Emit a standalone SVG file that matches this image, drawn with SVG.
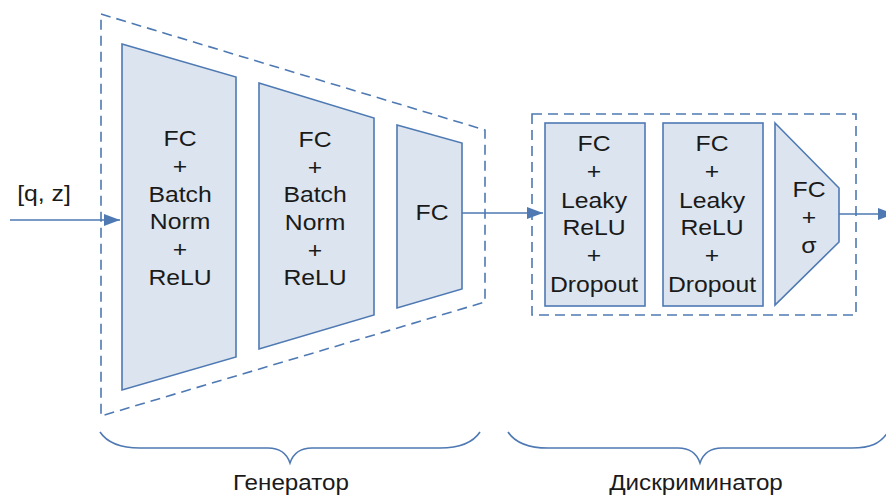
<svg xmlns="http://www.w3.org/2000/svg" width="886" height="497" viewBox="0 0 886 497">
<defs>
<style>
.blk{fill:#dce5ef;stroke:#4e79b3;stroke-width:1.6}
.dash{fill:none;stroke:#4e79b3;stroke-width:1.6;stroke-dasharray:10 6}
.ln{fill:none;stroke:#4e79b3;stroke-width:1.6}
.t{font-family:"Liberation Sans",Arial,sans-serif;font-size:22.5px;fill:#1a1a1a;text-anchor:middle}
.lbl{font-family:"Liberation Sans",Arial,sans-serif;font-size:22px;fill:#1a1a1a;text-anchor:middle}
</style>
<marker id="ah" viewBox="0 0 16 12" refX="16" refY="6" markerWidth="16" markerHeight="12" markerUnits="userSpaceOnUse" orient="auto">
<path d="M0,0 L16,6 L0,12 z" fill="#4e79b3"/>
</marker>
</defs>
<rect width="886" height="497" fill="#ffffff"/>

<g id="generator-frame">
<path class="dash" d="M101,14 L485,130 L485,302 L101,416 Z"/>
</g>
<g id="discriminator-frame">
<rect class="dash" x="532" y="114" width="324" height="201"/>
</g>

<g id="gen1">
<path class="blk" d="M122,44 L236,77 L236,357 L122,390 Z"/>
<text class="t" transform="translate(180 146) scale(1.1 1)">FC</text>
<text class="t" transform="translate(180 174) scale(1.1 1)">+</text>
<text class="t" transform="translate(180 202) scale(1.1 1)">Batch</text>
<text class="t" transform="translate(180 229) scale(1.1 1)">Norm</text>
<text class="t" transform="translate(180 257) scale(1.1 1)">+</text>
<text class="t" transform="translate(180 285) scale(1.1 1)">ReLU</text>
</g>
<g id="gen2">
<path class="blk" d="M259,83 L374,118 L374,315 L259,349 Z"/>
<text class="t" transform="translate(315 147) scale(1.1 1)">FC</text>
<text class="t" transform="translate(315 175) scale(1.1 1)">+</text>
<text class="t" transform="translate(315 202) scale(1.1 1)">Batch</text>
<text class="t" transform="translate(315 230) scale(1.1 1)">Norm</text>
<text class="t" transform="translate(315 258) scale(1.1 1)">+</text>
<text class="t" transform="translate(315 285) scale(1.1 1)">ReLU</text>
</g>
<g id="gen3">
<path class="blk" d="M397,125 L462,143 L462,289 L397,308 Z"/>
<text class="t" transform="translate(432 220) scale(1.1 1)">FC</text>
</g>

<g id="disc1">
<rect class="blk" x="545" y="123" width="100" height="183"/>
<text class="t" transform="translate(594 151) scale(1.1 1)">FC</text>
<text class="t" transform="translate(594 179) scale(1.1 1)">+</text>
<text class="t" transform="translate(594 208) scale(1.1 1)">Leaky</text>
<text class="t" transform="translate(594 235) scale(1.1 1)">ReLU</text>
<text class="t" transform="translate(594 263) scale(1.1 1)">+</text>
<text class="t" transform="translate(594 292) scale(1.1 1)">Dropout</text>
</g>
<g id="disc2">
<rect class="blk" x="663" y="123" width="100" height="183"/>
<text class="t" transform="translate(712 151) scale(1.1 1)">FC</text>
<text class="t" transform="translate(712 179) scale(1.1 1)">+</text>
<text class="t" transform="translate(712 208) scale(1.1 1)">Leaky</text>
<text class="t" transform="translate(712 235) scale(1.1 1)">ReLU</text>
<text class="t" transform="translate(712 263) scale(1.1 1)">+</text>
<text class="t" transform="translate(712 292) scale(1.1 1)">Dropout</text>
</g>
<g id="disc3">
<path class="blk" d="M775,123 L839,188 L839,242 L775,305 Z"/>
<text class="t" transform="translate(809 197) scale(1.1 1)">FC</text>
<text class="t" transform="translate(809 225) scale(1.1 1)">+</text>
<text class="t" transform="translate(809 253) scale(1.1 1)">σ</text>
</g>

<g id="connectors">
<line class="ln" x1="10" y1="220" x2="120" y2="220" marker-end="url(#ah)"/>
<line class="ln" x1="462" y1="213" x2="543" y2="213" marker-end="url(#ah)"/>
<line class="ln" x1="839" y1="214" x2="894" y2="214" marker-end="url(#ah)"/>
</g>

<g id="input-label">
<text class="t" transform="translate(44 201) scale(1.1 1)">[q, z]</text>
</g>

<g id="gen-brace">
<path class="ln" d="M100,432 C108,444 122,448 140,448 L268,448 C281,448 287,454 290,463 C293,454 299,448 312,448 L440,448 C458,448 472,444 480,432"/>
<text class="lbl" transform="translate(291 490) scale(1.1 1)">Генератор</text>
</g>
<g id="disc-brace">
<path class="ln" d="M508,432 C516,444 530,448 548,448 L678,448 C691,448 697,454 700,463 C703,454 709,448 722,448 L852,448 C870,448 880,444 888,432"/>
<text class="lbl" transform="translate(696 490) scale(1.1 1)">Дискриминатор</text>
</g>
</svg>
